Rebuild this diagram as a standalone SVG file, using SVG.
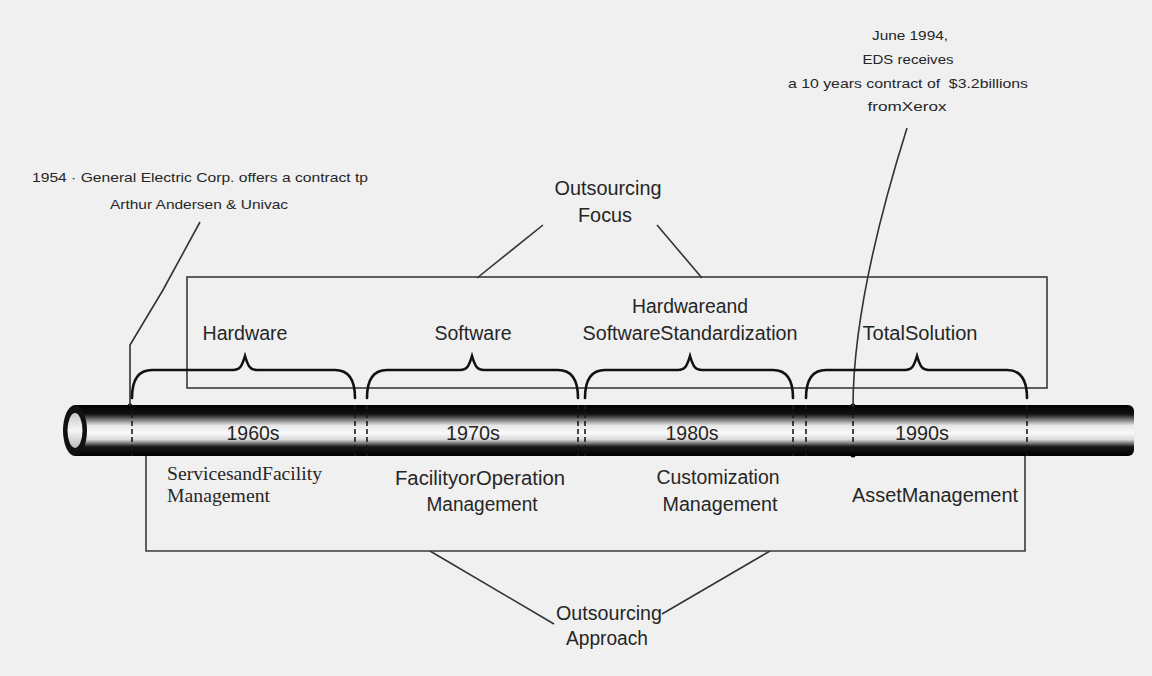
<svg xmlns="http://www.w3.org/2000/svg" width="1152" height="676" viewBox="0 0 1152 676">
<defs>
<style>
.t{font-family:"Liberation Sans",Arial,sans-serif;font-size:20px;fill:#262626;text-anchor:middle}
.s{font-size:13px}
.d{font-size:21px}
.sf{font-family:"Liberation Serif","Times New Roman",serif;font-size:19px;fill:#262626;text-anchor:start}
.box{fill:none;stroke:#3a3a3a;stroke-width:1.6}
.brace{fill:none;stroke:#111;stroke-width:2.6;stroke-linecap:round}
.ln{fill:none;stroke:#333;stroke-width:1.6}
.dash{stroke:#1a1a1a;stroke-width:1.6;stroke-dasharray:5 3}
</style>
<linearGradient id="pipe" x1="0" y1="0" x2="0" y2="1">
<stop offset="0" stop-color="#000"/>
<stop offset="0.18" stop-color="#111"/>
<stop offset="0.40" stop-color="#e6e6e6"/>
<stop offset="0.55" stop-color="#fafafa"/>
<stop offset="0.68" stop-color="#d8d8d8"/>
<stop offset="0.82" stop-color="#161616"/>
<stop offset="1" stop-color="#000"/>
</linearGradient>
<linearGradient id="hole" x1="0" y1="0" x2="0" y2="1">
<stop offset="0" stop-color="#c8c8c8"/>
<stop offset="0.5" stop-color="#f6f6f6"/>
<stop offset="1" stop-color="#bbb"/>
</linearGradient>
</defs>
<rect width="1152" height="676" fill="#f0f0f0"/>

<g id="pipe-body">
<rect x="74" y="405" width="1060" height="51" rx="6" ry="6" fill="url(#pipe)"/>
<rect x="74" y="405" width="20" height="51" fill="url(#pipe)"/>
<ellipse cx="75" cy="430.5" rx="12" ry="25.5" fill="#111"/>
<ellipse cx="75" cy="430.5" rx="7.5" ry="17.5" fill="url(#hole)"/>
</g>

<g id="connectors">
<line class="dash" x1="132" y1="405" x2="132" y2="456"/>
<line class="dash" x1="355" y1="405" x2="355" y2="456"/>
<line class="dash" x1="367" y1="405" x2="367" y2="456"/>
<line class="dash" x1="578" y1="405" x2="578" y2="456"/>
<line class="dash" x1="585" y1="405" x2="585" y2="456"/>
<line class="dash" x1="793" y1="405" x2="793" y2="456"/>
<line class="dash" x1="806" y1="405" x2="806" y2="456"/>
<line class="dash" x1="1027" y1="405" x2="1027" y2="456"/>
<line class="dash" x1="853" y1="405" x2="853" y2="456"/>
<circle cx="130" cy="406" r="2.5" fill="#000"/>
<circle cx="853" cy="406" r="2.5" fill="#000"/>
<circle cx="853" cy="455" r="2.5" fill="#000"/>
<polyline class="ln" points="200,222 163,290 130,345 130,406"/>
<path class="ln" d="M907,128 Q853,300 853,407"/>
<line class="ln" x1="543" y1="225" x2="477" y2="278"/>
<line class="ln" x1="657" y1="225" x2="702" y2="278"/>
<line class="ln" x1="430" y1="551" x2="554" y2="624"/>
<line class="ln" x1="770" y1="551" x2="662" y2="614"/>
</g>

<g id="focus-box">
<rect class="box" x="187" y="277" width="860" height="111"/>
</g>
<g id="approach-box">
<path class="box" d="M146,456 V551 H1025 V456"/>
</g>

<g id="braces">
<path class="brace" d="M132,398 C132,383 136,370 152,370 L233,370 C240,370 242,366 245,356 C248,366 250,370 257,370 L335,370 C351,370 355,383 355,398"/>
<path class="brace" d="M367,398 C367,383 371,370 387,370 L460,370 C467,370 469,366 472,356 C475,366 477,370 484,370 L558,370 C574,370 578,383 578,398"/>
<path class="brace" d="M585,398 C585,383 589,370 605,370 L678,370 C685,370 687,366 690,356 C693,366 695,370 702,370 L773,370 C789,370 793,383 793,398"/>
<path class="brace" d="M806,398 C806,383 810,370 826,370 L905,370 C912,370 914,366 917,356 C920,366 922,370 929,370 L1007,370 C1023,370 1027,383 1027,398"/>
</g>

<g id="focus-labels">
<text class="t" x="245" y="340" textLength="85" lengthAdjust="spacingAndGlyphs">Hardware</text>
<text class="t" x="473" y="340" textLength="77" lengthAdjust="spacingAndGlyphs">Software</text>
<text class="t" x="690" y="313" textLength="116" lengthAdjust="spacingAndGlyphs">Hardwareand</text>
<text class="t" x="690" y="340" textLength="215" lengthAdjust="spacingAndGlyphs">SoftwareStandardization</text>
<text class="t" x="920" y="340" textLength="115" lengthAdjust="spacingAndGlyphs">TotalSolution</text>
</g>

<g id="decades">
<text class="t d" x="253" y="440" textLength="53" lengthAdjust="spacingAndGlyphs">1960s</text>
<text class="t d" x="473" y="440" textLength="54" lengthAdjust="spacingAndGlyphs">1970s</text>
<text class="t d" x="692" y="440" textLength="53" lengthAdjust="spacingAndGlyphs">1980s</text>
<text class="t d" x="922" y="440" textLength="54" lengthAdjust="spacingAndGlyphs">1990s</text>
</g>

<g id="approach-labels">
<text class="sf" x="167" y="480" textLength="155" lengthAdjust="spacingAndGlyphs">ServicesandFacility</text>
<text class="sf" x="167" y="502" textLength="103" lengthAdjust="spacingAndGlyphs">Management</text>
<text class="t" x="480" y="485" textLength="170" lengthAdjust="spacingAndGlyphs">FacilityorOperation</text>
<text class="t" x="482" y="511" textLength="111" lengthAdjust="spacingAndGlyphs">Management</text>
<text class="t" x="718" y="484" textLength="123" lengthAdjust="spacingAndGlyphs">Customization</text>
<text class="t" x="720" y="511" textLength="115" lengthAdjust="spacingAndGlyphs">Management</text>
<text class="t" x="935" y="502" textLength="166" lengthAdjust="spacingAndGlyphs">AssetManagement</text>
</g>

<g id="outsourcing-focus">
<text class="t" x="608" y="195" textLength="107" lengthAdjust="spacingAndGlyphs">Outsourcing</text>
<text class="t" x="605" y="222" textLength="54" lengthAdjust="spacingAndGlyphs">Focus</text>
</g>

<g id="outsourcing-approach">
<text class="t" x="609" y="620" textLength="106" lengthAdjust="spacingAndGlyphs">Outsourcing</text>
<text class="t" x="607" y="645" textLength="82" lengthAdjust="spacingAndGlyphs">Approach</text>
</g>

<g id="note-1954">
<text class="t s" x="200" y="182" textLength="336" lengthAdjust="spacingAndGlyphs">1954 · General Electric Corp. offers a contract tp</text>
<text class="t s" x="199" y="209" textLength="178" lengthAdjust="spacingAndGlyphs">Arthur Andersen &amp; Univac</text>
</g>

<g id="note-1994">
<text class="t s" x="910" y="40" textLength="76" lengthAdjust="spacingAndGlyphs">June 1994,</text>
<text class="t s" x="908" y="64" textLength="91" lengthAdjust="spacingAndGlyphs">EDS receives</text>
<text class="t s" x="908" y="88" textLength="240" lengthAdjust="spacingAndGlyphs">a 10 years contract of&#160; $3.2billions</text>
<text class="t s" x="907" y="111" textLength="79" lengthAdjust="spacingAndGlyphs">fromXerox</text>
</g>
</svg>
